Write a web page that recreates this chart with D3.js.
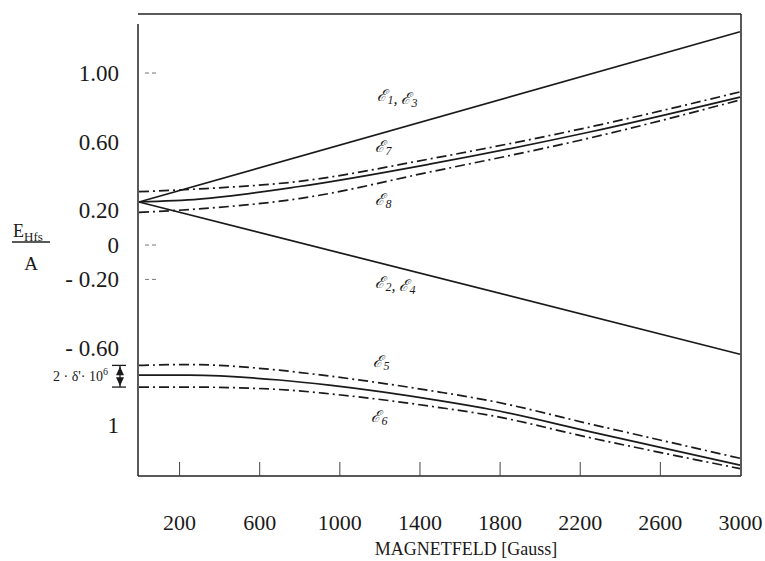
<!DOCTYPE html>
<html>
<head>
<meta charset="utf-8">
<script src="https://cdn.jsdelivr.net/npm/d3@7"></script>
<style>
  body { margin: 0; background: #fff; }
  text { font-family: "Liberation Serif", "Times New Roman", serif; fill: #1a1a1a; }
</style>
</head>
<body>
<div class="chart"></div>
<script>
const fieldLin = [0, 3000];
const e13 = [0.25, 1.24];
const e24 = [0.25, -0.635];

const fieldUp = [0, 300, 800, 1450, 2250, 3000];
const e7Plus  = [0.31, 0.326, 0.37, 0.50, 0.686, 0.89];
const e7      = [0.25, 0.267, 0.34, 0.47, 0.657, 0.86];
const e7Minus = [0.19, 0.21, 0.27, 0.424, 0.622, 0.843];

const fieldLow = [0, 250, 700, 950, 1500, 1750, 2250, 3000];
const e5Plus  = [-0.70, -0.695, -0.728, -0.762, -0.855, -0.905, -1.04, -1.24];
const e5      = [-0.756, -0.757, -0.785, -0.815, -0.905, -0.955, -1.085, -1.28];
const e5Minus = [-0.826, -0.826, -0.84, -0.865, -0.945, -0.99, -1.12, -1.30];

const xTicks = [200, 600, 1000, 1400, 1800, 2200, 2600, 3000];
const yTicks = [1.0, 0.6, 0.2, 0, -0.2, -0.6, -1.05];
const yTickLabels = ["1.00", "0.60", "0.20", "0", "- 0.20", "- 0.60", "1"];
const yDashTicks = [1.0, 0, -0.2];

const W = 765, H = 561;
const fLeft = 138, fRight = 741, fTop = 14, fBottom = 476;

const svg = d3.select(".chart").append("svg")
    .attr("width", W)
    .attr("height", H);

svg.append("rect").attr("width", W).attr("height", H).attr("fill", "#fff");

const x = d3.scaleLinear().domain([0, 3000]).range([139, 740]);
const y = d3.scaleLinear().domain([0, 1]).range([245, 73]);

/* frame */
const frame = svg.append("g").attr("stroke", "#222").attr("stroke-width", 1.5).attr("fill", "none");
frame.append("line").attr("x1", fLeft).attr("x2", fRight).attr("y1", fTop).attr("y2", fTop);
frame.append("line").attr("x1", fLeft).attr("x2", fLeft).attr("y1", fTop + 10).attr("y2", fBottom);
frame.append("line").attr("x1", fRight).attr("x2", fRight).attr("y1", fTop).attr("y2", fBottom);
frame.append("line").attr("x1", fLeft).attr("x2", fRight).attr("y1", fBottom).attr("y2", fBottom);

/* x axis */
const xAxis = svg.append("g")
    .attr("transform", `translate(0,${fBottom})`)
    .call(d3.axisBottom(x).tickValues(xTicks).tickSize(-14).tickPadding(38).tickFormat(d3.format("d")));
xAxis.select(".domain").remove();
xAxis.selectAll(".tick line").attr("stroke", "#444").attr("stroke-width", 1);
xAxis.selectAll(".tick").filter(d => d === 3000).select("line").remove();
xAxis.selectAll("text")
    .attr("font-size", 22)
    .attr("fill", "#1a1a1a");

svg.append("text")
    .attr("x", 466).attr("y", 555)
    .attr("text-anchor", "middle")
    .attr("font-size", 18)
    .text("MAGNETFELD [Gauss]");

/* y axis labels */
const yAxis = svg.append("g")
    .attr("transform", `translate(${fLeft},0)`)
    .call(d3.axisLeft(y).tickValues(yTicks).tickSize(0).tickPadding(19)
        .tickFormat((d, i) => yTickLabels[i]));
yAxis.select(".domain").remove();
yAxis.selectAll("text")
    .attr("font-size", 23)
    .attr("fill", "#1a1a1a");

svg.selectAll(".dtick")
    .data(yDashTicks)
    .enter().append("line")
    .attr("x1", 145).attr("x2", 158)
    .attr("y1", d => y(d)).attr("y2", d => y(d))
    .attr("stroke", "#777")
    .attr("stroke-width", 1)
    .attr("stroke-dasharray", "4,3");

/* y title E_Hfs / A */
const yt = svg.append("text").attr("x", 13).attr("y", 237).attr("font-size", 18);
yt.append("tspan").text("E");
yt.append("tspan").attr("font-size", 13).attr("dy", 4).text("Hfs");
svg.append("line").attr("x1", 12).attr("x2", 50).attr("y1", 242).attr("y2", 242)
    .attr("stroke", "#222").attr("stroke-width", 1.3);
svg.append("text").attr("x", 31).attr("y", 270).attr("text-anchor", "middle")
    .attr("font-size", 19).text("A");

/* curves */
const line = d3.line()
    .x(d => x(d[0]))
    .y(d => y(d[1]))
    .curve(d3.curveMonotoneX);

const dashDot = "10,4,2,4";
const series = [
    [fieldLin, e13, null],
    [fieldLin, e24, null],
    [fieldUp, e7Plus, dashDot],
    [fieldUp, e7, null],
    [fieldUp, e7Minus, dashDot],
    [fieldLow, e5Plus, dashDot],
    [fieldLow, e5, null],
    [fieldLow, e5Minus, dashDot]
];

svg.selectAll(".curve")
    .data(series)
    .enter().append("path")
    .attr("class", "curve")
    .attr("d", s => line(s[0].map((g, i) => [g, s[1][i]])))
    .attr("fill", "none")
    .attr("stroke", "#1a1a1a")
    .attr("stroke-width", 1.7)
    .attr("stroke-dasharray", s => s[2]);

/* curve labels */
function label(gx, v, parts) {
    const t = svg.append("text")
        .attr("x", x(gx)).attr("y", y(v))
        .attr("font-style", "italic")
        .attr("font-size", 16);
    parts.forEach(p => {
        t.append("tspan").text(p[0]);
        t.append("tspan").attr("font-size", 12).attr("dy", 3).text(p[1]);
        t.append("tspan").attr("dy", -3).text("");
    });
}
label(1190, 0.84, [["ℰ", "1"], [", ℰ", "3"]]);
label(1180, 0.54, [["ℰ", "7"]]);
label(1180, 0.235, [["ℰ", "8"]]);
label(1180, -0.25, [["ℰ", "2"], [", ℰ", "4"]]);
label(1170, -0.71, [["ℰ", "5"]]);
label(1160, -1.03, [["ℰ", "6"]]);

/* 2 delta arrow at zero field */
const aTop = y(e5Plus[0]), aBot = y(e5Minus[0]), aMid = (aTop + aBot) / 2;
const arr = svg.append("g").attr("stroke", "#1a1a1a").attr("stroke-width", 1.3);
arr.append("line").attr("x1", 112).attr("x2", 126).attr("y1", aTop).attr("y2", aTop);
arr.append("line").attr("x1", 112).attr("x2", 126).attr("y1", aBot).attr("y2", aBot);
arr.append("line").attr("x1", 120).attr("x2", 120).attr("y1", aTop).attr("y2", aBot);
arr.append("path")
    .attr("d", `M120,${aTop + 1}L116,${aMid - 1}L124,${aMid - 1}Z M120,${aBot - 1}L116,${aMid + 1}L124,${aMid + 1}Z`)
    .attr("fill", "#1a1a1a").attr("stroke", "none");

const dl = svg.append("text").attr("x", 108).attr("y", aMid + 5)
    .attr("text-anchor", "end").attr("font-size", 14);
dl.append("tspan").text("2 · δ'· 10");
dl.append("tspan").attr("font-size", 10).attr("dy", -6).text("6");
</script>
</body>
</html>
